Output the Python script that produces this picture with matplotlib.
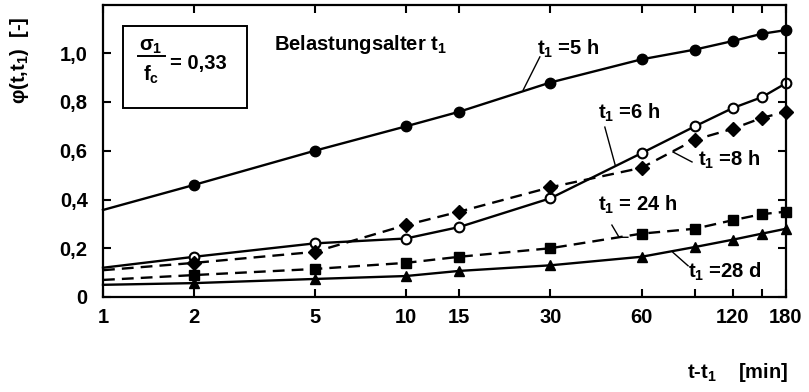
import matplotlib
matplotlib.use("Agg")
import matplotlib.pyplot as plt
from matplotlib.patches import Rectangle
from matplotlib.lines import Line2D
import matplotlib.ticker as mticker

plt.rcParams['font.family'] = ['Liberation Sans', 'DejaVu Sans']
plt.rcParams['font.weight'] = 'bold'
plt.rcParams['mathtext.fontset'] = 'custom'
plt.rcParams['mathtext.rm'] = 'Liberation Sans:bold'
plt.rcParams['mathtext.it'] = 'Liberation Sans:italic:bold'
plt.rcParams['mathtext.bf'] = 'Liberation Sans:bold'
plt.rcParams['font.size'] = 14.5

# creep coefficient phi(t,t1) over loading duration t-t1 [min]
t_min = [1, 2, 5, 10, 15, 30, 60, 90, 120, 150, 180]
phi_5h = [0.357, 0.46, 0.60, 0.70, 0.76, 0.88, 0.975, 1.015, 1.05, 1.08, 1.095]
phi_6h = [0.12, 0.165, 0.22, 0.24, 0.287, 0.405, 0.59, 0.70, 0.775, 0.82, 0.877]
phi_8h = [0.11, 0.14, 0.185, 0.295, 0.35, 0.45, 0.53, 0.645, 0.69, 0.735, 0.76]
phi_24h = [0.07, 0.09, 0.115, 0.14, 0.165, 0.20, 0.26, 0.28, 0.315, 0.34, 0.35]
phi_28d = [0.05, 0.057, 0.074, 0.086, 0.107, 0.13, 0.165, 0.205, 0.235, 0.26, 0.28]

x_ticks = [1, 2, 5, 10, 15, 30, 60, 90, 120, 150, 180]
x_labels = ['1', '2', '5', '10', '15', '30', '60', '', '120', '', '180']
y_ticks = [0, 0.2, 0.4, 0.6, 0.8, 1.0]
y_labels = ['0', '0,2', '0,4', '0,6', '0,8', '1,0']

W, H = 809, 392
fig = plt.figure(figsize=(W / 100, H / 100), dpi=100)
ax = fig.add_axes([103 / W, 1 - 297 / H, 683 / W, 292.5 / H])

lw = 1.7
dash = (5, 3)
ax.plot(t_min, phi_5h, color='black', lw=lw, marker='o', ms=7.5,
        markevery=slice(1, None), clip_on=False)
ax.plot(t_min, phi_6h, color='black', lw=lw, marker='o', ms=7, mfc='white',
        mew=1.5, markevery=slice(1, None), clip_on=False)
ax.plot(t_min, phi_8h, color='black', lw=lw, ls=(0, dash), marker='D', ms=7,
        markevery=slice(1, None), clip_on=False)
ax.plot(t_min, phi_24h, color='black', lw=lw, ls=(0, dash), marker='s', ms=7,
        markevery=slice(1, None), clip_on=False)
ax.plot(t_min, phi_28d, color='black', lw=lw, marker='^', ms=7.5,
        markevery=slice(1, None), clip_on=False)

ax.set_xscale('log')
ax.set_xlim(1, 180)
ax.set_ylim(0, 1.2)
ax.xaxis.set_major_locator(mticker.FixedLocator(x_ticks))
ax.xaxis.set_major_formatter(mticker.FixedFormatter(x_labels))
ax.xaxis.set_minor_locator(mticker.NullLocator())
ax.set_yticks(y_ticks)
ax.set_yticklabels(y_labels)

for s in ax.spines.values():
    s.set_linewidth(1.6)
ax.tick_params(direction='in', length=6, width=1.5, top=True, right=True)
ax.tick_params(axis='x', pad=8)
ax.tick_params(axis='y', pad=11)

# ratio box
ax.add_patch(Rectangle((0.029, 0.646), 0.182, 0.28, transform=ax.transAxes,
                       fill=False, lw=1.4, color='black'))
ax.text(151 / W, 1 - 47 / H, r'σ$_1$', transform=fig.transFigure,
        ha='center', va='center')
fig.add_artist(Line2D([138 / W, 165 / W], [1 - 56 / H, 1 - 56 / H],
                      transform=fig.transFigure, color='black', lw=1.4))
ax.text(151 / W, 1 - 75 / H, r'f$_\mathrm{c}$', transform=fig.transFigure,
        ha='center', va='center')
ax.text(170 / W, 1 - 64 / H, '= 0,33', transform=fig.transFigure,
        ha='left', va='center')

ax.text(3.68, 1.035, r'Belastungsalter t$_1$', ha='left', va='center')

# curve labels with leader lines
ax.text(27.1, 1.02, r't$_1$ =5 h', ha='left', va='center')
ax.plot([27.7, 24.4], [0.985, 0.849], color='black', lw=1)

ax.text(43.1, 0.755, r't$_1$ =6 h', ha='left', va='center')
ax.plot([45.4, 49.1], [0.697, 0.542], color='black', lw=1)

ax.text(92.2, 0.562, r't$_1$ =8 h', ha='left', va='center')
ax.plot([88.1, 76.2], [0.554, 0.595], color='black', lw=1)

ax.text(43.1, 0.38, r't$_1$ = 24 h', ha='left', va='center')
ax.plot([47.9, 50.6, 54.1], [0.295, 0.245, 0.245], color='black', lw=1)

ax.text(85.5, 0.103, r't$_1$ =28 d', ha='left', va='center')
ax.plot([76.2, 85.5], [0.183, 0.128], color='black', lw=1)

fig.text(20 / W, 1 - 60 / H, r'φ(t,t$_1$)  [-]', rotation=90,
         ha='center', va='center')
fig.text(788 / W, 1 - 373 / H, r't-t$_1$    [min]', ha='right', va='center')

fig.savefig('out.png', dpi=100)
